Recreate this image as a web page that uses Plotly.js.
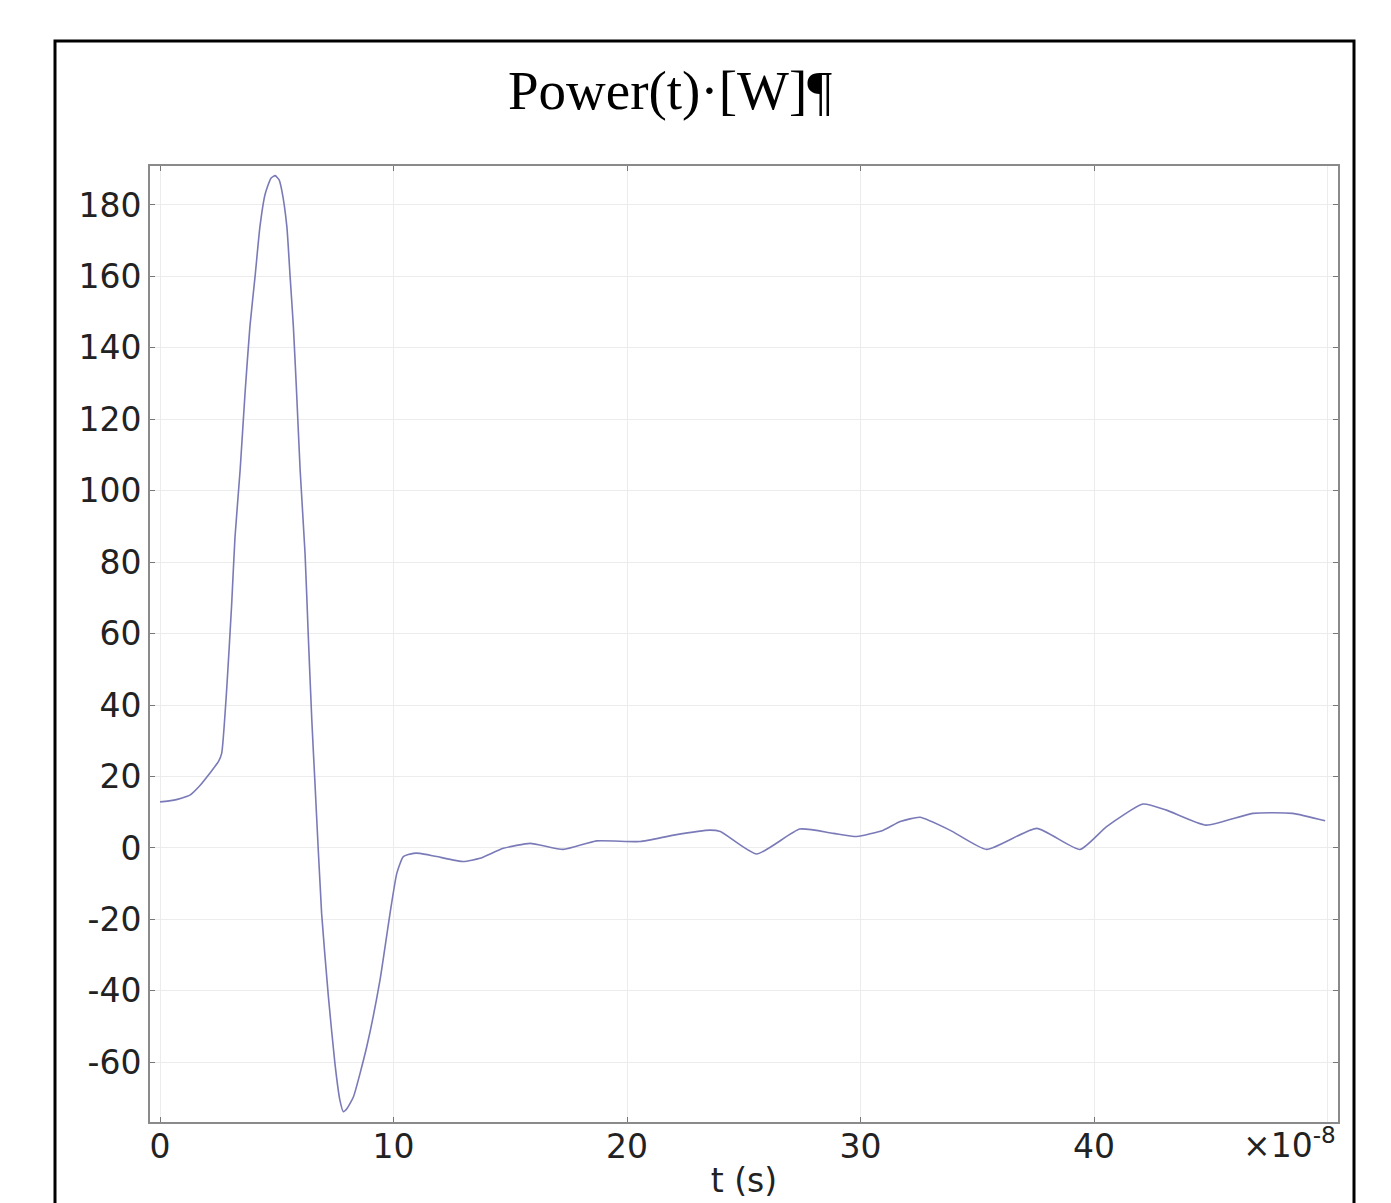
<!DOCTYPE html>
<html>
<head>
<meta charset="utf-8">
<script src="https://cdn.plot.ly/plotly-3.0.1.min.js"></script>
<style>
  html, body { margin: 0; padding: 0; background: #ffffff; }
  #chart { width: 1391px; height: 1203px; }
</style>
</head>
<body>
<div id="chart"></div>
<script>
// time in units of 1e-8 s
const timeValues = [0, 0.6, 1.28, 1.71, 2.14, 2.5, 2.64, 2.86, 3.07, 3.21, 3.43, 3.64, 3.85, 4.07, 4.28, 4.5, 4.75, 4.93, 5.1, 5.21, 5.43, 5.57, 5.71, 5.85, 6.0, 6.21, 6.35, 6.5, 6.64, 6.92, 7.21, 7.49, 7.7, 7.85, 8.0, 8.28, 8.85, 9.42, 9.85, 10.14, 10.42, 10.85, 11.13, 11.85, 13.0, 13.7, 14.7, 15.85, 17.27, 18.7, 20.56, 22.0, 23.55, 24.0, 25.55, 27.4, 28.83, 29.84, 30.98, 31.7, 32.55, 33.83, 35.4, 37.55, 39.4, 40.54, 42.1, 43.1, 44.8, 46.8, 48.5, 49.9];
const powerValues = [12.9, 13.4, 14.8, 17.5, 21.0, 24.2, 26.5, 45.0, 68.5, 87.0, 105.8, 127.3, 146.0, 160.0, 174.0, 183.0, 187.5, 188.2, 187.0, 184.2, 174.0, 160.0, 146.0, 127.3, 105.8, 82.5, 59.2, 35.8, 17.5, -18.3, -41.6, -60.3, -70.5, -73.8, -73.0, -69.7, -55.7, -37.0, -18.3, -7.1, -2.4, -1.5, -1.5, -2.4, -3.8, -2.9, -0.1, 1.3, -0.4, 2.0, 1.8, 3.6, 5.0, 4.6, -1.7, 5.3, 4.1, 3.2, 5.0, 7.4, 8.6, 5.0, -0.4, 5.5, -0.4, 6.0, 12.3, 10.6, 6.4, 9.7, 9.7, 7.6];

const xTickVals = [0, 10, 20, 30, 40];
const xTickText = ['0', '10', '20', '30', '40'];
const xLastGrid = 50;
const yTickVals = [-60, -40, -20, 0, 20, 40, 60, 80, 100, 120, 140, 160, 180];
const yTickText = ['-60', '-40', '-20', '0', '20', '40', '60', '80', '100', '120', '140', '160', '180'];

const chartTitle = 'Power(t)·[W]¶';
const xTitle = 't (s)';
const xScaleNote = '×10<sup>-8</sup>';

const tickFont = { family: 'DejaVu Sans, Verdana, sans-serif', size: 33, color: '#222222' };

const trace = {
  x: timeValues,
  y: powerValues,
  type: 'scatter',
  mode: 'lines',
  line: { color: '#7a7ab8', width: 1.6, shape: 'spline', smoothing: 0.5 },
  hoverinfo: 'x+y'
};

const layout = {
  width: 1391,
  height: 1203,
  paper_bgcolor: '#ffffff',
  plot_bgcolor: '#ffffff',
  margin: { l: 150, r: 53, t: 166, b: 81 },
  showlegend: false,
  title: {
    text: chartTitle,
    font: { family: 'Liberation Serif, Times New Roman, serif', size: 55, color: '#000000' },
    x: 0.4817, xref: 'container', xanchor: 'center',
    y: 1 - 90 / 1203, yref: 'container', yanchor: 'middle'
  },
  xaxis: {
    range: [-0.43, 50.45],
    tickvals: xTickVals,
    ticktext: xTickText,
    tickfont: tickFont,
    ticks: 'inside',
    ticklen: 5,
    tickcolor: '#777777',
    ticklabelstandoff: -6,
    showline: true,
    linecolor: '#8a8a8a',
    linewidth: 2,
    mirror: 'ticks',
    showgrid: true,
    gridcolor: '#ececec',
    gridwidth: 1,
    zeroline: false,
    title: { text: xTitle, font: tickFont, standoff: 4 },
    automargin: false
  },
  yaxis: {
    range: [-76.7, 190.9],
    tickvals: yTickVals,
    ticktext: yTickText,
    tickfont: tickFont,
    ticks: 'inside',
    ticklen: 5,
    tickcolor: '#777777',
    showline: true,
    linecolor: '#8a8a8a',
    linewidth: 2,
    mirror: 'ticks',
    showgrid: true,
    gridcolor: '#ececec',
    gridwidth: 1,
    zeroline: false,
    automargin: false
  },
  annotations: [
    {
      text: xScaleNote,
      xref: 'paper', yref: 'paper',
      x: 1.0, y: 0, xanchor: 'right', yanchor: 'top', yshift: 2,
      showarrow: false,
      font: tickFont
    }
  ],
  shapes: [
    {
      type: 'line', xref: 'x', yref: 'paper',
      x0: xLastGrid, x1: xLastGrid, y0: 0, y1: 1,
      line: { color: '#ececec', width: 1 },
      layer: 'below'
    },
    {
      type: 'rect', xref: 'paper', yref: 'paper',
      x0: (55 - 150) / 1188, x1: (1354 - 150) / 1188,
      y0: (1122 - 1215) / 956, y1: (1122 - 41) / 956,
      line: { color: '#000000', width: 3 },
      fillcolor: 'rgba(0,0,0,0)',
      layer: 'above'
    }
  ]
};

Plotly.newPlot('chart', [trace], layout, { staticPlot: true, displayModeBar: false });
</script>
</body>
</html>
